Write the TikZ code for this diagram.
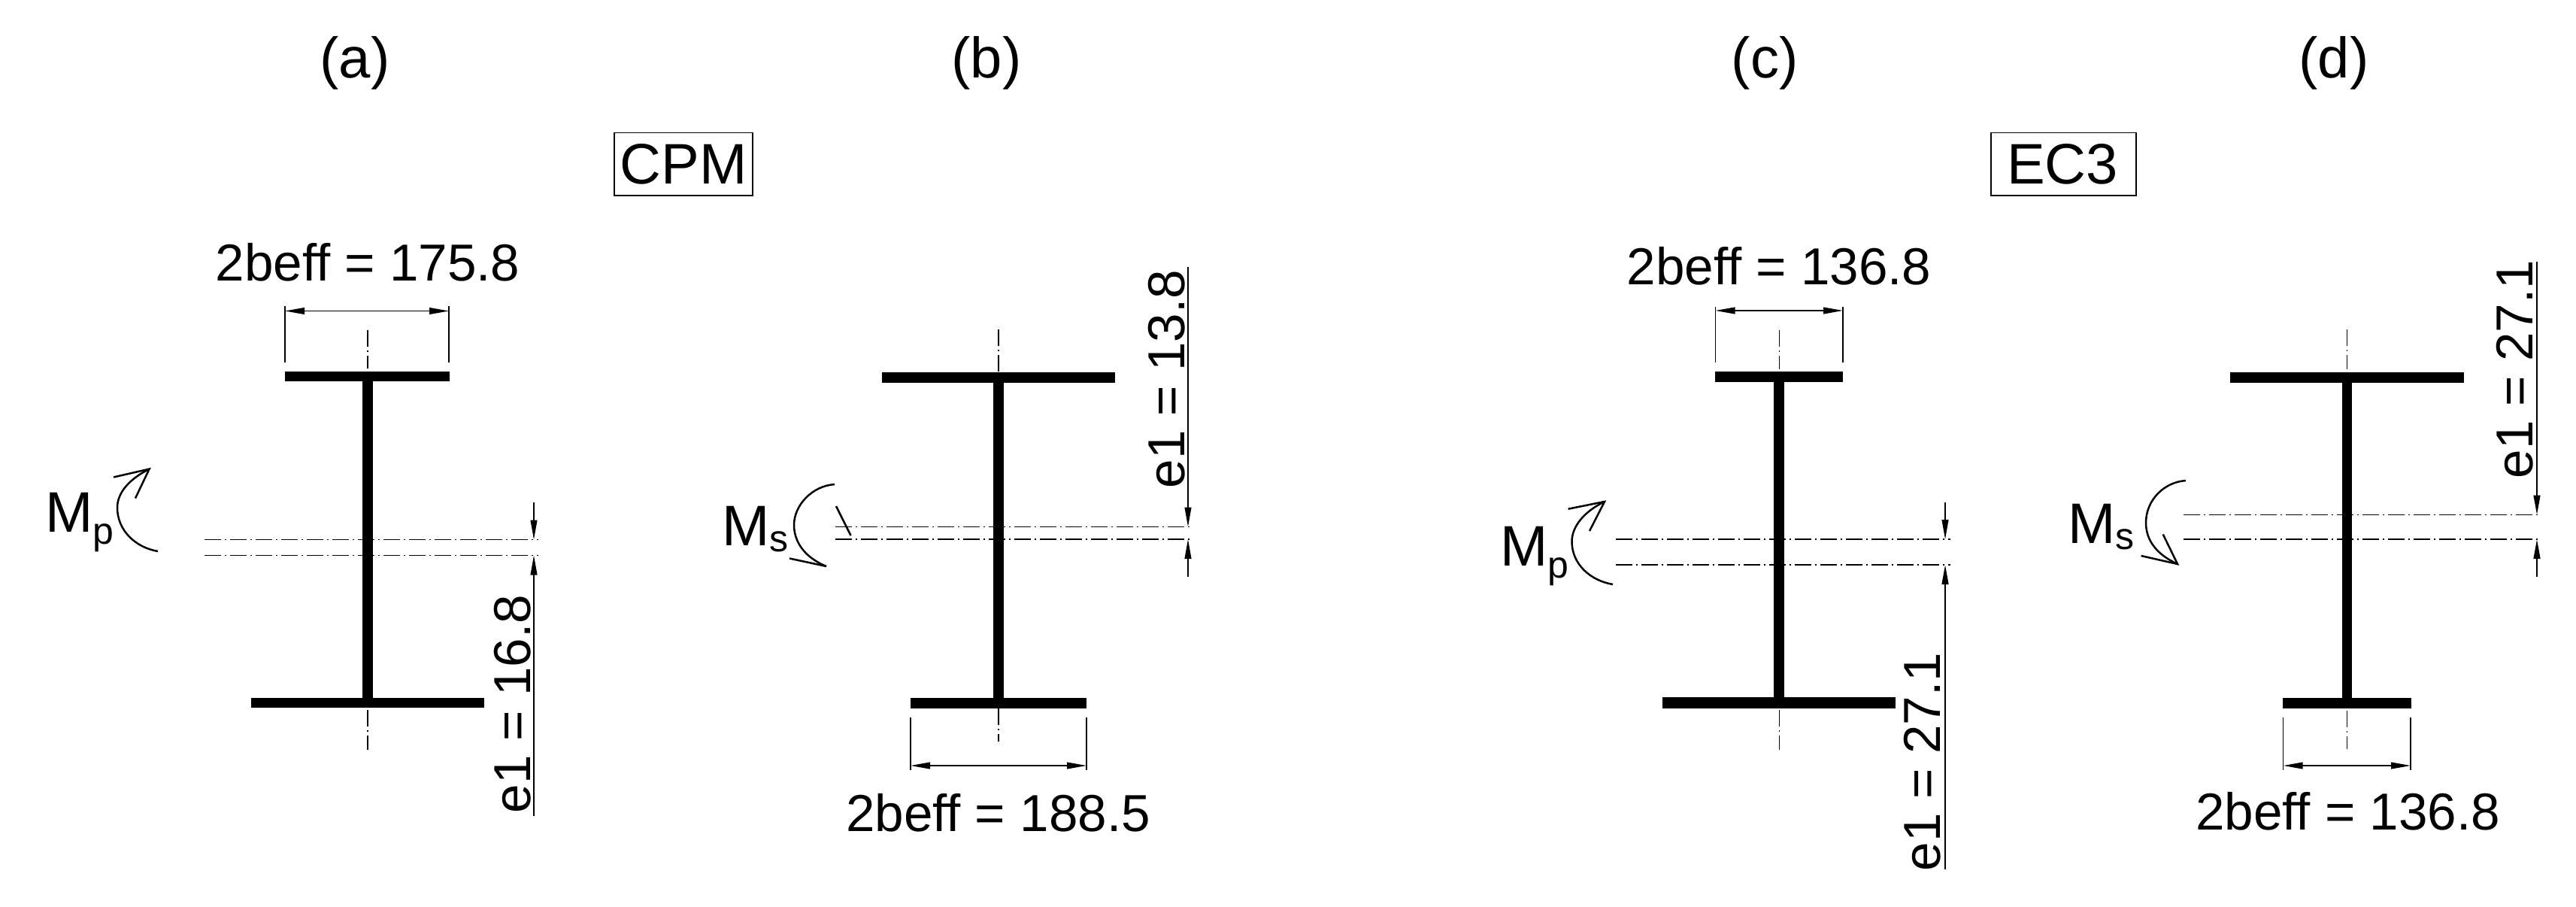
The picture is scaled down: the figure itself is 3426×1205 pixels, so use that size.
\documentclass[tikz,border=0pt]{standalone}
\usepackage{fontspec}
\setmainfont{Liberation Sans}
\usetikzlibrary{arrows.meta}
\tikzset{
  every node/.style={inner sep=0pt,outer sep=0pt},
  dimtxt/.style={font=\fontsize{34.6}{40}\selectfont,anchor=base},
  captxt/.style={font=\fontsize{38}{44}\selectfont,anchor=base},
  boxtxt/.style={font=\fontsize{38}{44}\selectfont,anchor=base},
  momtxt/.style={anchor=base west},
  dimline/.style={line width=0.75pt,{Triangle[length=13pt,width=4.4pt]}-{Triangle[length=13pt,width=4.4pt]}},
  endarrow/.style={line width=#1,-{Triangle[length=13pt,width=4.4pt]}},
  ext/.style={line width=0.75pt},
  axisline/.style={line width=0.7pt,dash pattern=on 11pt off 2.5pt on 1pt off 2.5pt},
  moment/.style={line width=1.25pt},
}
\newcommand{\momlabel}[3]{{\fontsize{38}{44}\selectfont M}\raisebox{-#3pt}{\fontsize{25}{30}\selectfont #1}}
\begin{document}
\begin{tikzpicture}[x=0.5pt,y=-0.5pt]
\useasboundingbox[fill=white] (0,0) rectangle (3426,1205);

% captions
\node[captxt] (capa) at (472,103) {(a)};
\node[captxt] (capb) at (1312,103) {(b)};
\node[captxt] (capc) at (2347,103) {(c)};
\node[captxt] (capd) at (3104,103) {(d)};
\draw[line width=0.8pt] (817,176.5) rectangle (1001,260);
\node[boxtxt] (cpm) at (909,244) {CPM};
\draw[line width=0.8pt] (2648,176.5) rectangle (2841,260);
\node[boxtxt] (ec3) at (2743,244) {EC3};

% ---------- panel a
\fill (379,494) rectangle (598,507);
\fill (482,507) rectangle (496,928);
\fill (334,927.5) rectangle (644,941);
\draw[axisline] (489,439) -- (489,490);
\draw[axisline] (489,944) -- (489,997);
\draw[ext] (379,407) -- (379,481.5);
\draw[ext] (597,407) -- (597,481.5);
\draw[dimline] (379,413.5) -- (597,413.5);
\node[dimtxt] (ta) at (489,373) {2beff = 175.8};
\draw[axisline] (272,717.5) -- (716,717.5);
\draw[axisline] (272,738.5) -- (716,738.5);
\draw[endarrow=0.75pt] (710,668) -- (710,717.5);
\draw[endarrow=0.75pt] (710,1085) -- (710,738.5);
\node[dimtxt,rotate=90] (ea) at (705,936) {e1 = 16.8};
\node[momtxt] (ma) at (60,707) {\momlabel{p}{}{8}};
\draw[moment] (210,733) .. controls (180,728) and (156,705) .. (156,675)
  .. controls (156,655) and (172,637) .. (198.6,623.6);
\draw[moment] (151,634.5) -- (198.6,623.6) -- (180,662.5);

% ---------- panel b
\fill (1173,495) rectangle (1483,509);
\fill (1321,509) rectangle (1334.5,928);
\fill (1211,928) rectangle (1445,942);
\draw[axisline] (1328,438) -- (1328,494);
\draw[axisline] (1328,942) -- (1328,986);
\draw[ext] (1211,954) -- (1211,1024);
\draw[ext] (1445,954) -- (1445,1024);
\draw[dimline] (1211,1018) -- (1445,1018);
\node[dimtxt] (tb) at (1327.5,1105) {2beff = 188.5};
\draw[axisline] (1111,700.5) -- (1587,700.5);
\draw[axisline] (1111,717) -- (1587,717);
\draw[endarrow=0.75pt] (1580,354.5) -- (1580,700.5);
\draw[endarrow=0.75pt] (1580,767) -- (1580,717);
\node[dimtxt,rotate=90] (eb) at (1575,504) {e1 = 13.8};
\node[momtxt] (mb) at (960,725) {\momlabel{s}{}{4}};
\draw[moment] (1110,644) .. controls (1080,646) and (1056,672) .. (1056,698)
  .. controls (1056,722) and (1072,742) .. (1099,753);
\draw[moment] (1050,742.5) -- (1099,753);
\draw[moment] (1112,673) -- (1131.5,712);

% ---------- panel c
\fill (2281,494) rectangle (2451,508);
\fill (2359,508) rectangle (2372.6,927);
\fill (2211,927) rectangle (2521,941.5);
\draw[axisline] (2366.7,439) -- (2366.7,491);
\draw[axisline] (2366.7,944) -- (2366.7,997);
\draw[ext] (2281.5,407.5) -- (2281.5,481.5);
\draw[ext] (2451,407.5) -- (2451,481.5);
\draw[dimline] (2281.5,413) -- (2451,413);
\node[dimtxt] (tc) at (2366,378.5) {2beff = 136.8};
\draw[axisline] (2149,717) -- (2594,717);
\draw[axisline,line width=0.9pt] (2149,751) -- (2594,751);
\draw[endarrow=0.75pt] (2587,668) -- (2587,717);
\draw[endarrow=1pt] (2587,1156) -- (2587,751);
\node[dimtxt,rotate=90] (ec) at (2580.5,1013) {e1 = 27.1};
\node[momtxt] (mc) at (1995,752) {\momlabel{p}{}{8}};
\draw[moment] (2145,777) .. controls (2115,772) and (2090.5,750) .. (2090.5,720)
  .. controls (2090.5,700) and (2107,680) .. (2134,667);
\draw[moment] (2085.6,676.7) -- (2134,667) -- (2114,706);

% ---------- panel d
\fill (2966,495) rectangle (3277,509);
\fill (3115,509) rectangle (3128,928);
\fill (3036,928) rectangle (3207,942);
\draw[axisline] (3121.4,438) -- (3121.4,491);
\draw[axisline] (3121.4,945) -- (3121.4,996);
\draw[ext] (3036.7,954) -- (3036.7,1024);
\draw[ext] (3206,954) -- (3206,1024);
\draw[dimline] (3036.7,1018) -- (3206,1018);
\node[dimtxt] (td) at (3122.5,1103.5) {2beff = 136.8};
\draw[axisline] (2904,684.5) -- (3380,684.5);
\draw[axisline] (2904,717) -- (3380,717);
\draw[endarrow=1pt] (3374,347.5) -- (3374,684.5);
\draw[endarrow=1pt] (3374,767) -- (3374,717);
\node[dimtxt,rotate=90] (ed) at (3368,491) {e1 = 27.1};
\node[momtxt] (md) at (2750,722) {\momlabel{s}{}{4}};
\draw[moment] (2907,639) .. controls (2878,641) and (2854,665) .. (2854,695)
  .. controls (2854,720) and (2870,738) .. (2896,750);
\draw[moment] (2847.6,739) -- (2896,750) -- (2876.7,710.4);
\end{tikzpicture}
\end{document}
